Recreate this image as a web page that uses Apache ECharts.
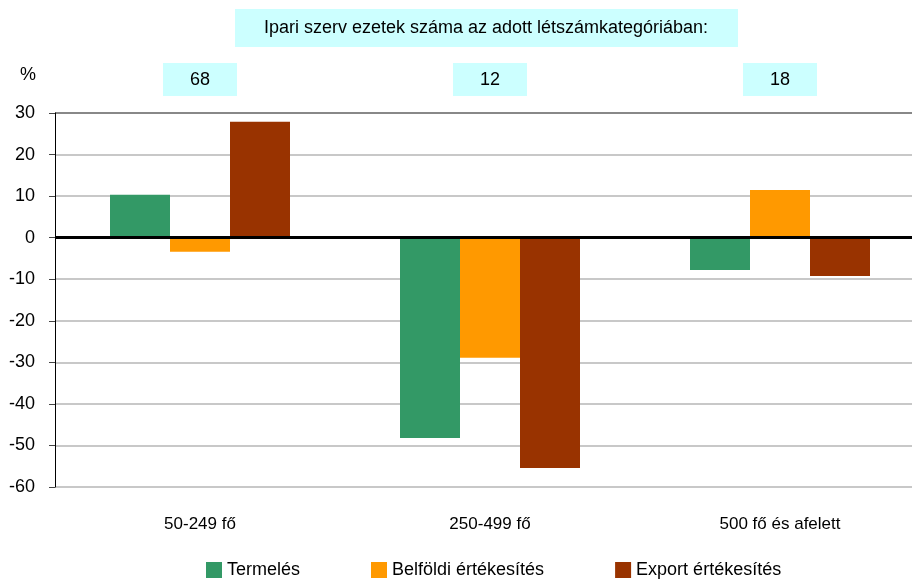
<!DOCTYPE html>
<html>
<head>
<meta charset="utf-8">
<script src="https://cdn.jsdelivr.net/npm/echarts@6/dist/echarts.min.js"></script>
<style>
  html, body { margin: 0; padding: 0; background: #fff; }
  #chart { width: 912px; height: 580px; }
</style>
</head>
<body>
<div id="chart"></div>
<script>
const categories = ["50-249 fő", "250-499 fő", "500 fő és afelett"];
const orgCounts = ["68", "12", "18"];
const termeles = [10.3, -48.2, -7.8];
const belfoldi = [-3.4, -28.9, 11.5];
const exportErt = [27.9, -55.4, -9.2];

const FONT = "'Liberation Sans', Arial, sans-serif";
const GREEN = "#339966";
const ORANGE = "#ff9900";
const BROWN = "#993300";
const BOX = "#ccffff";

const chart = echarts.init(document.getElementById("chart"));

function barSeries(name, data, color, withZero) {
  const s = {
    name,
    type: "bar",
    data,
    barWidth: 60,
    barGap: "0%",
    itemStyle: { color },
  };
  if (withZero) {
    s.markLine = {
      silent: true,
      symbol: "none",
      label: { show: false },
      lineStyle: { color: "#000", width: 3, type: "solid" },
      data: [{ yAxis: 0 }],
      z: 10,
    };
  }
  return s;
}

chart.setOption({
  animation: false,
  textStyle: { fontFamily: FONT },
  grid: { left: 55, top: 113, width: 870, height: 374, outerBoundsMode: "none", containLabel: false },
  graphic: [
    {
      type: "rect",
      shape: { x: 235, y: 9, width: 503, height: 38 },
      style: { fill: BOX },
    },
    {
      type: "text",
      x: 486, y: 28,
      style: {
        text: "Ipari szerv ezetek száma az adott létszámkategóriában:",
        fontFamily: FONT, fontSize: 18, fill: "#000",
        textAlign: "center", textVerticalAlign: "middle",
      },
    },
    {
      type: "text",
      x: 28, y: 75,
      style: {
        text: "%", fontFamily: FONT, fontSize: 18, fill: "#000",
        textAlign: "center", textVerticalAlign: "middle",
      },
    },
  ],
  legend: {
    left: 201,
    bottom: -4,
    itemWidth: 16,
    itemHeight: 16,
    itemGap: 71,
    icon: "rect",
    textStyle: { fontFamily: FONT, fontSize: 18, color: "#000" },
    data: ["Termelés", "Belföldi értékesítés", "Export értékesítés"],
  },
  xAxis: [
    {
      type: "category",
      data: categories,
      axisLine: { show: false, onZero: false },
      axisTick: { show: false },
      axisLabel: { fontFamily: FONT, fontSize: 17, color: "#000", margin: 29 },
    },
    {
      type: "category",
      position: "top",
      data: orgCounts,
      axisLine: { show: false },
      axisTick: { show: false },
      axisLabel: {
        fontFamily: FONT, fontSize: 18, color: "#000", margin: 17,
        backgroundColor: BOX, padding: [8, 27, 7, 27],
      },
    },
  ],
  yAxis: {
    type: "value",
    min: -60,
    max: 30,
    interval: 10,
    axisLine: { show: true, lineStyle: { color: "#000", width: 1 } },
    axisTick: { show: true, length: 6, lineStyle: { color: "#444" } },
    axisLabel: { fontFamily: FONT, fontSize: 18, color: "#000", margin: 20 },
    splitLine: {
      lineStyle: {
        color: ["#c8c8c8", "#c8c8c8", "#c8c8c8", "#c8c8c8", "#c8c8c8",
                "#c8c8c8", "#c8c8c8", "#c8c8c8", "#c8c8c8", "#888888"],
        width: 2,
      },
    },
  },
  series: [
    barSeries("Termelés", termeles, GREEN, true),
    barSeries("Belföldi értékesítés", belfoldi, ORANGE, false),
    barSeries("Export értékesítés", exportErt, BROWN, false),
  ],
});
</script>
</body>
</html>
